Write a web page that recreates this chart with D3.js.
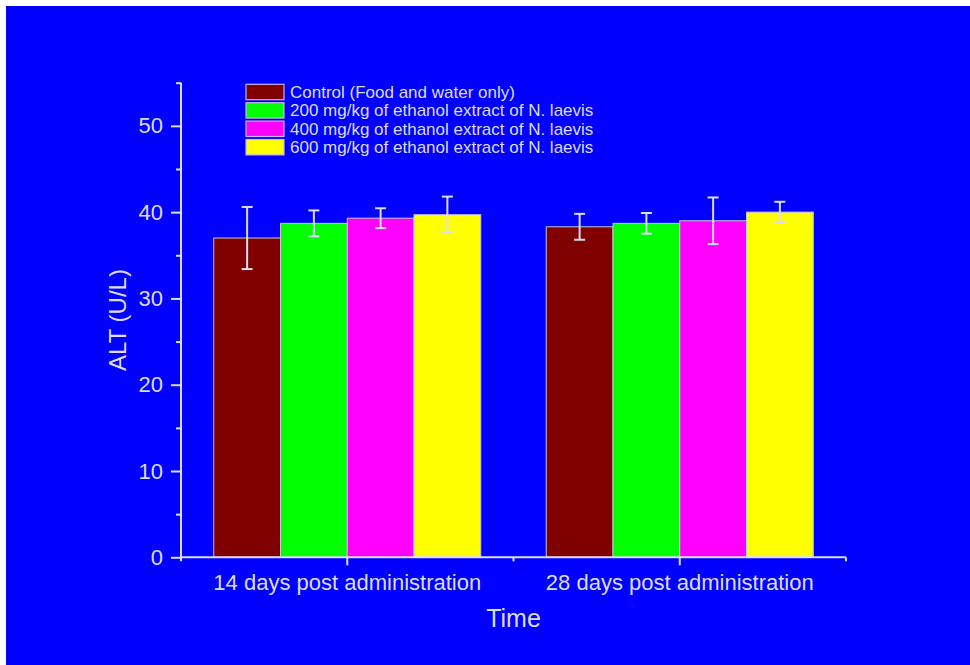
<!DOCTYPE html>
<html>
<head>
<meta charset="utf-8">
<script src="https://cdn.jsdelivr.net/npm/d3@7"></script>
<style>
  html, body { margin: 0; padding: 0; background: #ffffff; }
  svg { display: block; }
  text { font-family: "Liberation Sans", Arial, sans-serif; }
</style>
</head>
<body>
<svg id="chart" width="970" height="665"></svg>
<script>
const groups = ["14 days post administration", "28 days post administration"];
const seriesNames = [
  "Control (Food and water only)",
  "200 mg/kg of ethanol extract of N. laevis",
  "400 mg/kg of ethanol extract of N. laevis",
  "600 mg/kg of ethanol extract of N. laevis"
];
const seriesColors = ["#800000", "#00ff00", "#ff00ff", "#ffff00"];
const day14Values = [37.0, 38.7, 39.3, 39.7];
const day14Errors = [3.6, 1.5, 1.15, 2.1];
const day28Values = [38.3, 38.7, 39.0, 40.0];
const day28Errors = [1.5, 1.2, 2.7, 1.2];
const yMajorTicks = [0, 10, 20, 30, 40, 50];
const yMinorTicks = [5, 15, 25, 35, 45, 55];
const yTitle = "ALT (U/L)";
const xTitle = "Time";

const valuesByGroup = [day14Values, day28Values];
const errorsByGroup = [day14Errors, day28Errors];
const rows = [];
groups.forEach((g, gi) => {
  seriesNames.forEach((s, si) => {
    rows.push({ group: g, series: s, si, value: valuesByGroup[gi][si], err: errorsByGroup[gi][si] });
  });
});

const fg = "#dcdcf4";
const svg = d3.select("#chart");
svg.append("rect").attr("x", 6).attr("y", 6).attr("width", 964).attr("height", 659).attr("fill", "#0000ff");

const pLeft = 181, pRight = 846, pTop = 82.7, pBottom = 557.3;
const y = d3.scaleLinear().domain([0, 55]).range([pBottom, pTop]);
const x0 = d3.scaleBand().domain(groups).range([pLeft, pRight]).paddingInner(0.197).paddingOuter(0.0985);
const x1 = d3.scaleBand().domain(seriesNames).range([0, x0.bandwidth()]).padding(0);
const color = d3.scaleOrdinal().domain(seriesNames).range(seriesColors);

// bars
svg.append("g").selectAll("rect").data(rows).join("rect")
  .attr("x", d => x0(d.group) + x1(d.series))
  .attr("y", d => y(d.value))
  .attr("width", x1.bandwidth())
  .attr("height", d => y(0) - y(d.value))
  .attr("fill", d => color(d.series))
  .attr("stroke", "#c8c8d8")
  .attr("stroke-width", 1);

// error bars
const eb = svg.append("g").attr("stroke", fg).attr("stroke-width", 2).attr("fill", "none");
rows.forEach(d => {
  const cx = x0(d.group) + x1(d.series) + x1.bandwidth() / 2;
  const y1 = y(d.value + d.err), y2 = y(d.value - d.err);
  eb.append("line").attr("x1", cx).attr("x2", cx).attr("y1", y1).attr("y2", y2);
  eb.append("line").attr("x1", cx - 5.5).attr("x2", cx + 5.5).attr("y1", y1).attr("y2", y1);
  eb.append("line").attr("x1", cx - 5.5).attr("x2", cx + 5.5).attr("y1", y2).attr("y2", y2);
});

// y axis
const yAxis = svg.append("g").attr("transform", `translate(${pLeft},0)`)
  .call(d3.axisLeft(y).tickValues(yMajorTicks).tickSize(10).tickPadding(8).tickFormat(d3.format("d")));
yAxis.select(".domain").remove();
yAxis.selectAll(".tick line").attr("stroke", fg).attr("stroke-width", 2);
yAxis.selectAll(".tick text").attr("fill", fg).attr("font-size", 22).attr("font-family", "Liberation Sans, Arial, sans-serif");
const yMinor = svg.append("g").attr("transform", `translate(${pLeft},0)`)
  .call(d3.axisLeft(y).tickValues(yMinorTicks).tickSize(5).tickFormat(""));
yMinor.select(".domain").remove();
yMinor.selectAll(".tick line").attr("stroke", fg).attr("stroke-width", 2);
svg.append("line").attr("x1", pLeft).attr("x2", pLeft).attr("y1", pTop).attr("y2", pBottom + 3.5)
  .attr("stroke", fg).attr("stroke-width", 2);

// x axis
const xCenters = groups.map(g => x0(g) + x0.bandwidth() / 2);
const xAxis = svg.append("g").attr("transform", `translate(0,${pBottom})`)
  .call(d3.axisBottom(x0).tickSize(8).tickPadding(9));
xAxis.select(".domain").remove();
xAxis.selectAll(".tick line").attr("stroke", fg).attr("stroke-width", 2);
xAxis.selectAll(".tick text").attr("fill", fg).attr("font-size", 22).attr("font-family", "Liberation Sans, Arial, sans-serif");
svg.append("line").attr("x1", pLeft).attr("x2", pRight).attr("y1", pBottom).attr("y2", pBottom)
  .attr("stroke", fg).attr("stroke-width", 2);
const xMinorPos = [pLeft, (xCenters[0] + xCenters[1]) / 2, pRight];
svg.append("g").selectAll("line").data(xMinorPos).join("line")
  .attr("x1", d => d).attr("x2", d => d).attr("y1", pBottom).attr("y2", pBottom + 4)
  .attr("stroke", fg).attr("stroke-width", 2);

// titles
svg.append("text").attr("x", (pLeft + pRight) / 2).attr("y", 627).attr("text-anchor", "middle")
  .attr("fill", fg).attr("font-size", 25).text(xTitle);
svg.append("text").attr("transform", `translate(126,320) rotate(-90)`).attr("text-anchor", "middle")
  .attr("fill", fg).attr("font-size", 24).text(yTitle);

// legend
const legend = svg.append("g").attr("transform", "translate(246,84.3)");
const li = legend.selectAll("g").data(seriesNames).join("g")
  .attr("transform", (d, i) => `translate(0,${i * 18.4})`);
li.append("rect").attr("width", 38).attr("height", 15.4).attr("fill", d => color(d))
  .attr("stroke", "#c8b4e6").attr("stroke-width", 1.2);
li.append("text").attr("x", 44).attr("y", 13.4).attr("fill", fg).attr("font-size", 17).text(d => d);
</script>
</body>
</html>
